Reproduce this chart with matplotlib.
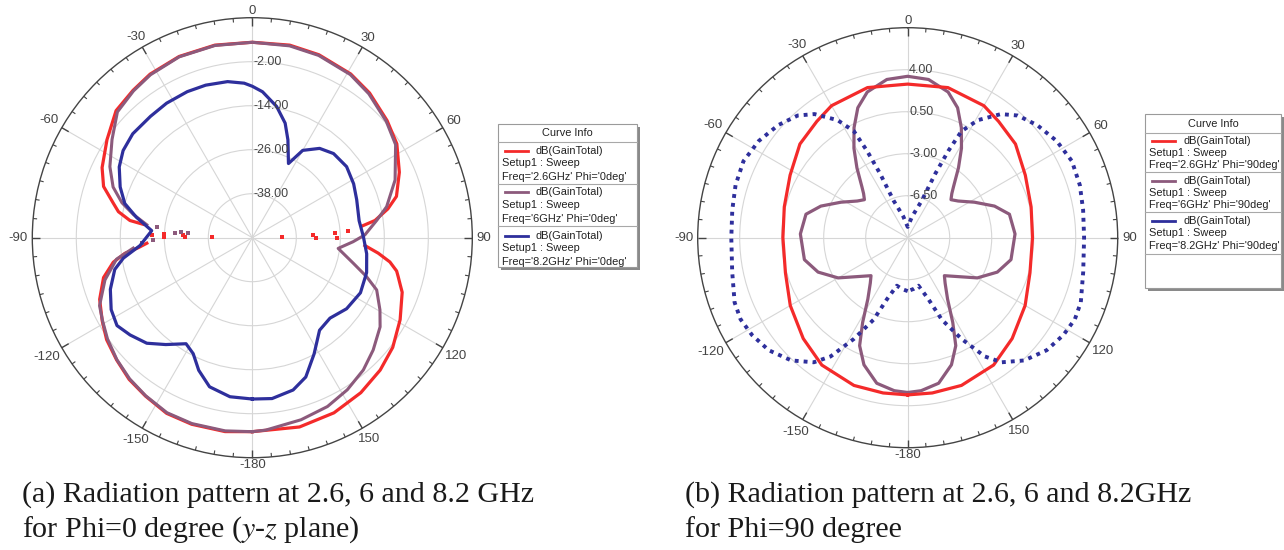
import numpy as np
import matplotlib.pyplot as plt
from matplotlib.patches import Rectangle
from matplotlib.lines import Line2D

plt.rcParams['font.family'] = ['Liberation Sans', 'DejaVu Sans']
plt.rcParams['mathtext.fontset'] = 'stix'

W, H = 1284, 550

RED = '#f42a2a'
MAUVE = '#8c5a7c'
NAVY = '#2e2f9c'

# ---------------- Phi = 0 deg cut, dB(GainTotal) ----------------
red0_ang = [-180, -172, -162, -154, -146, -139, -132, -125, -119, -112, -105, -100, -97, -95, -93,
            np.nan,
            -83, -82, -79, -76, -71, -65, -56, -47, -39, -32, -22, -11, 0, 11, 20, 31, 39, 49, 57,
            66, 74, 78, 82, 84,
            np.nan,
            94, 97, 100, 103, 105, 108, 110, 119, 128, 136, 145, 155, 166, 180]
red0_db = [2.9, 3.4, 3.5, 3.3, 2.1, 1.2, -0.2, -1.5, -3.2, -5.1, -8.0, -11.5, -15.0, -18.8, -21.2,
           np.nan,
           -20.0, -16.3, -12.8, -10.9, -7.1, -4.8, -2.2, 0.8, 1.7, 2.6, 3.3, 3.5, 3.3, 3.5, 3.1, 2.1,
           0.8, -1.3, -3.0, -6.1, -9.1, -12.2, -16.2, -20.0,
           np.nan,
           -19.2, -15.4, -11.9, -9.6, -8.8, -7.5, -6.5, -3.9, -1.4, 0.2, 1.6, 2.7, 3.2, 2.9]
# sparse samples inside the two nulls
red0_null_ang = [-88.5, -87.6, -89.5, -89, -88, -89.5, 86, 87, 90.5, 87.5, 90, 88]
red0_null_db = [-22.5, -26.0, -26.0, -31.6, -31.0, -38.9, -23.7, -27.5, -27.0, -33.4, -32.5, -42.0]

pur0_ang = [-180, -172, -162, -154, -146, -139, -132, -125, -119, -114, -106, -99, -95,
            np.nan,
            -83, -79, -75, -70, -63.5, -55, -47, -39, -32, -22, -11, 0, 11, 20, 31, 39, 49, 57, 68,
            77, 82, 88.6, 92.3, 97.1, 104.3, 108.8, 112.8, 119.5, 124.9, 132.9, 140, 148, 156, 165,
            176, 180]
pur0_db = [2.9, 3.2, 3.3, 3.1, 2.0, 1.0, -0.3, -1.8, -3.3, -4.4, -8.2, -12.5, -17.4,
           np.nan,
           -21.0, -17.0, -13.2, -9.6, -6.6, -3.3, 0.3, 1.5, 2.4, 3.2, 3.4, 3.3, 3.3, 2.9, 1.9, 0.5,
           -1.6, -3.4, -8.0, -12.4, -15.7, -19.3, -22.5, -26.4, -21.5, -17.1, -13.2, -10.0, -7.5,
           -5.0, -2.9, -1.1, 0.4, 1.4, 2.6, 2.9]
pur0_null_ang = [-83.4, -86.3, -85.1, -86.1, -91.4, -93]
pur0_null_db = [-23.7, -28.9, -30.6, -32.5, -23.0, -20.0]

blu0_ang = [-180, -172, -164, -158, -153, -148, -141, -135, -128.5, -123, -117, -110, -103, -99,
            -94, -86, -80, -75, -69, -62, -56, -49, -40, -32.5, -24, -17, -9, -3, 0, 4, 10.5, 16,
            20, 26, 30, 37, 44, 53, 62, 70, 81, 89.5, 98, 107, 117, 127, 136, 144, 152, 159, 165,
            173, 180]
blu0_db = [-6.0, -6.2, -7.7, -11.0, -14.5, -15.9, -12.5, -9.3, -7.4, -6.0, -6.8, -8.8, -11.5,
           -14.4, -19.3, -22.5, -17.9, -14.0, -11.4, -8.9, -7.5, -6.8, -6.8, -6.5, -6.4, -6.5, -6.9,
           -7.8, -8.7, -10.1, -13.6, -17.5, -21.6, -27.5, -22.5, -19.5, -18.1, -17.8, -18.7, -19.7,
           -20.5, -19.7, -18.5, -17.4, -16.9, -17.8, -19.5, -18.8, -14.1, -9.3, -7.0, -5.8, -6.0]

# ---------------- Phi = 90 deg cut (symmetric, 0..180 deg) ----------------
red90_ang = [0, 15, 30, 38, 49, 62, 76, 90, 106, 120, 134, 146, 160, 171, 180]
red90_db = [2.8, 2.95, 2.7, 2.3, 1.9, 1.1, 0.6, 0.4, 0.6, 1.3, 2.1, 2.8, 3.1, 3.1, 3.1]

pur90_ang = [0, 7.5, 15.5, 21, 26, 31, 36, 42, 45, 48.7, 54, 62, 70, 77, 88, 102, 111, 120, 127,
             136, 140.5, 147, 152, 156, 161, 168, 175, 180]
pur90_db = [3.45, 3.3, 2.6, 1.6, 0.2, -1.3, -2.8, -4.3, -4.8, -5.2, -4.8, -3.7, -2.3, -1.3, -1.05,
            -1.2, -2.0, -3.3, -4.6, -5.6, -5.1, -3.9, -2.0, -0.15, 1.2, 2.4, 2.8, 2.9]

blu90_ang = [0, 11.7, 20.8, 23.3, 25.1, 26.8, 30.8, 37, 42, 49, 57, 65, 73, 81, 90, 101, 110.5,
             116, 122, 129, 136.5, 143, 147, 152, 157.4, 161.4, 167.3, 173.5, 180]
blu90_db = [-9.1, -8.2, -6.7, -4.2, -2.0, -0.06, 1.4, 2.9, 3.7, 4.3, 4.8, 5.1, 5.0, 4.8, 4.7, 4.9,
            5.4, 5.5, 5.3, 4.9, 4.1, 3.0, 1.8, -0.45, -2.6, -4.6, -5.9, -5.7, -5.55]

theta_ticks = [0, 30, 60, 90, 120, 150, 180, 210, 240, 270, 300, 330]
theta_labels = ['0', '30', '60', '90', '120', '150', '-180', '-150', '-120', '-90', '-60', '-30']
rings0 = [-38, -26, -14, -2]
rings90 = [-6.5, -3.0, 0.5, 4.0]

freqs = ['2.6GHz', '6GHz', '8.2GHz']
colors = [RED, MAUVE, NAVY]


def fx(px):
    return px / W


def fy(py):
    return 1 - py / H


def mirror(ang, db):
    # full -180..180 sweep from the half pattern
    a = np.asarray(ang, float)
    d = np.asarray(db, float)
    return np.concatenate([-a[::-1], a[1:]]), np.concatenate([d[::-1], d[1:]])


def make_polar(fig, cx, cy, rad, rmin, rmax, rings):
    ax = fig.add_axes([fx(cx - rad), fy(cy + rad), 2 * rad / W, 2 * rad / H], projection='polar')
    ax.set_theta_zero_location('N')
    ax.set_theta_direction(-1)
    ax.set_ylim(rmin, rmax)
    ax.set_yticks(rings)
    ax.set_yticklabels([])
    ax.set_xticks(np.deg2rad(theta_ticks))
    ax.set_xticklabels([])
    ax.tick_params(axis='x', which='major', length=0)
    ax.grid(True, which='major', color='#d6d6d6', lw=0.8)
    ax.spines['polar'].set_color('#444444')
    ax.spines['polar'].set_linewidth(1.0)

    # inward rim ticks: every 5 deg, longer every 30 deg
    per_px = (rmax - rmin) / rad
    ang = np.arange(0, 360, 5)
    major = ang % 30 == 0
    ax.vlines(np.deg2rad(ang[~major]), rmax - 4 * per_px, rmax, color='#444444', lw=0.8,
              clip_on=False)
    ax.vlines(np.deg2rad(ang[major]), rmax - 8 * per_px, rmax, color='#444444', lw=1.0,
              clip_on=False)

    # angle labels just outside the rim
    for t, lab in zip(theta_ticks, theta_labels):
        w = 7.3 * sum(ch.isdigit() for ch in lab) + 4.4 * lab.count('-')
        s, c = abs(np.sin(np.deg2rad(t))), abs(np.cos(np.deg2rad(t)))
        d = rad + 3 + s * (w / 2 + 1.5) + c * 4
        ax.text(np.deg2rad(t), rmax + (d - rad) * per_px, lab, ha='center', va='center',
                fontsize=9.5, color='#444444', clip_on=False)

    for r in rings:
        ax.annotate(f'{r:.2f}', xy=(0, r), xytext=(1, 0), textcoords='offset points',
                    ha='left', va='center', fontsize=9, color='#444444')
    return ax


def curve_info(fig, x0, x1, y0, y1, header_y, seps, rows, phi):
    fig.add_artist(Rectangle((fx(x0 + 3), fy(y1 + 3)), (x1 - x0) / W, (y1 - y0) / H,
                             transform=fig.transFigure, facecolor='#8a8a8a', edgecolor='none'))
    fig.add_artist(Rectangle((fx(x0), fy(y1)), (x1 - x0) / W, (y1 - y0) / H,
                             transform=fig.transFigure, facecolor='white',
                             edgecolor='#9a9a9a', lw=0.8))
    fig.text(fx((x0 + x1) / 2), fy(header_y), 'Curve Info', ha='center', va='center',
             fontsize=7.9, color='#222222')
    for s in seps:
        fig.add_artist(Line2D([fx(x0), fx(x1)], [fy(s), fy(s)], transform=fig.transFigure,
                              color='#a8a8a8', lw=0.8))
    for (ya, yb, yc), f, c in zip(rows, freqs, colors):
        fig.add_artist(Line2D([fx(x0 + 7), fx(x0 + 30)], [fy(ya), fy(ya)],
                              transform=fig.transFigure, color=c, lw=2))
        fig.text(fx(x0 + 38), fy(ya), 'dB(GainTotal)', va='center', fontsize=7.9, color='#222222')
        fig.text(fx(x0 + 4), fy(yb), 'Setup1 : Sweep', va='center', fontsize=7.9, color='#222222')
        fig.text(fx(x0 + 4), fy(yc), f"Freq='{f}' Phi='{phi}'", va='center', fontsize=7.9,
                 color='#222222')


fig = plt.figure(figsize=(W / 100, H / 100), dpi=100)

# left: Phi = 0
ax0 = make_polar(fig, 252.3, 237.7, 220, -50, 10, rings0)
ax0.plot(np.deg2rad(red0_ang), red0_db, color=RED, lw=2.3)
ax0.plot(np.deg2rad(red0_null_ang), red0_null_db, 's', color=RED, ms=2.6, mew=0)
ax0.plot(np.deg2rad(pur0_ang), pur0_db, color=MAUVE, lw=2.2)
ax0.plot(np.deg2rad(pur0_null_ang), pur0_null_db, 's', color=MAUVE, ms=2.6, mew=0)
ax0.plot(np.deg2rad(blu0_ang), blu0_db, color=NAVY, lw=2.3)

# right: Phi = 90
ax1 = make_polar(fig, 907.7, 237.7, 210, -10, 7.5, rings90)
a, d = mirror(pur90_ang, pur90_db)
ax1.plot(np.deg2rad(a), d, color=MAUVE, lw=2.3)
a, d = mirror(red90_ang, red90_db)
ax1.plot(np.deg2rad(a), d, color=RED, lw=2.3)
a, d = mirror(blu90_ang, blu90_db)
ax1.plot(np.deg2rad(a), d, color=NAVY, lw=2.8, ls=(0, (1, 1.3)))

curve_info(fig, 498, 637, 124, 267, 133, [142.5, 184, 226],
           [(151, 163, 177), (192, 205, 219), (236, 248, 262)], '0deg')
curve_info(fig, 1145, 1281, 114, 288, 124, [133, 172, 212, 254],
           [(141, 153, 165), (181, 193, 205), (221, 233, 246)], '90deg')

cap = dict(family='Liberation Serif', fontsize=21.6, va='center', color='#1a1a1a')
fig.text(fx(22), fy(495), '(a) Radiation pattern at 2.6, 6 and 8.2 GHz', **cap)
fig.text(fx(22), fy(530), 'for Phi=0 degree ($y$-$z$ plane)', **cap)
fig.text(fx(685), fy(495), '(b) Radiation pattern at 2.6, 6 and 8.2GHz', **cap)
fig.text(fx(685), fy(530), 'for Phi=90 degree', **cap)

fig.savefig('out.png', dpi=100)
